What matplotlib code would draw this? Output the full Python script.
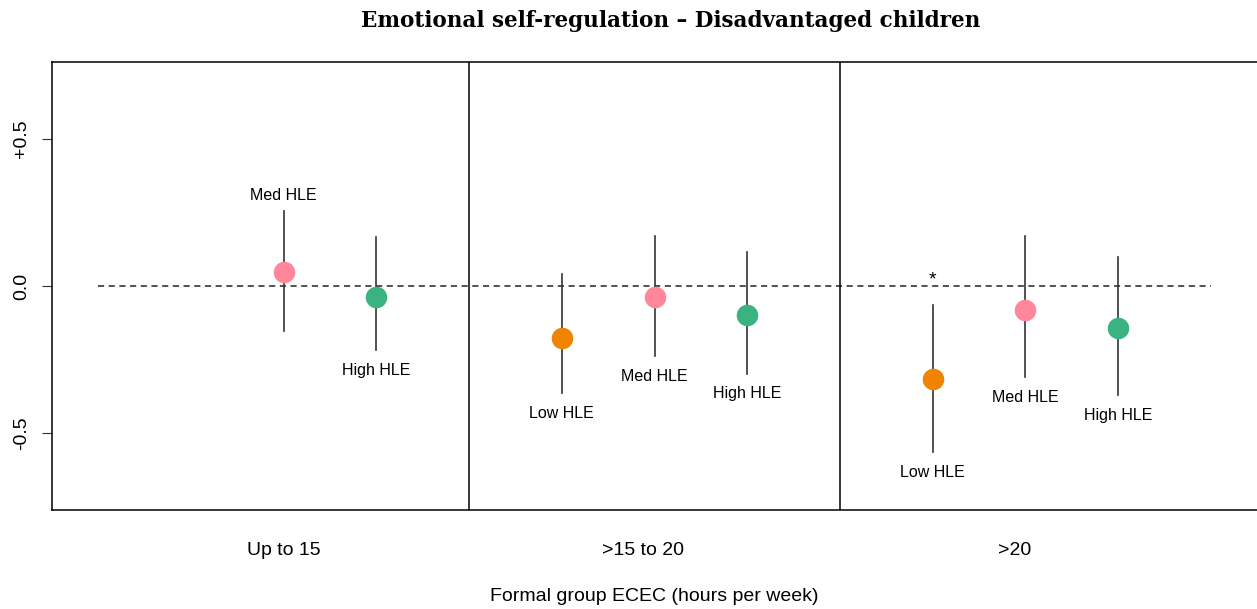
import matplotlib.pyplot as plt

groups = ['Up to 15', '>15 to 20', '>20']
group_ticks = [2, 5.88, 9.89]
hle = ['Low HLE', 'Med HLE', 'High HLE']
colors = ['#F08300', '#FF8799', '#3BB381']

# estimates per group, None where the cell is empty
est = [[None, 0.048, -0.038],
       [-0.175, -0.038, -0.097],
       [-0.314, -0.080, -0.144]]
lower = [[None, -0.151, -0.218],
         [-0.364, -0.239, -0.297],
         [-0.563, -0.310, -0.371]]
upper = [[None, 0.256, 0.167],
         [0.041, 0.168, 0.117],
         [-0.066, 0.171, 0.097]]
label_side = [[None, 'above', 'below'],
              ['below', 'below', 'below'],
              ['below', 'below', 'below']]
stars = [[None, '', ''],
         ['', '', ''],
         ['*', '', '']]

plt.rcParams['font.family'] = ['Liberation Sans', 'DejaVu Sans']

fig = plt.figure(figsize=(12.57, 6.09), dpi=100)
ax = fig.add_axes([52 / 1257, 99 / 609, 1205 / 1257, 448 / 609])

ax.plot([0, 12], [0, 0], ls=(0, (4, 3)), color='#222222', lw=1.1, zorder=1)

for g in range(len(groups)):
    for h in range(len(hle)):
        if est[g][h] is None:
            continue
        x = 4 * g + 1 + h
        ax.plot([x, x], [lower[g][h], upper[g][h]], color='#333333', lw=1.2, zorder=2)
        ax.plot(x, est[g][h], 'o', ms=15.5, color=colors[h], mec='none', zorder=3)
        if label_side[g][h] == 'above':
            ax.annotate(hle[h], (x, upper[g][h]), xytext=(0, 11), textcoords='offset points',
                        ha='center', va='center', fontsize=11.5)
        else:
            ax.annotate(hle[h], (x, lower[g][h]), xytext=(0, -14.5), textcoords='offset points',
                        ha='center', va='center', fontsize=11.5)
        if stars[g][h]:
            ax.annotate(stars[g][h], (x, 0), xytext=(0, 4), textcoords='offset points',
                        ha='center', va='center', fontsize=14)

for g in range(1, len(groups)):
    ax.axvline(4 * g, color='black', lw=1.1)

ax.set_xlim(-0.5, 12.5)
ax.set_ylim(-0.76, 0.76)
ax.set_xticks(group_ticks)
ax.set_xticklabels(groups, fontsize=14)
ax.tick_params(axis='x', length=0, pad=23)
ax.set_yticks([0.5, 0.0, -0.5])
ax.set_yticklabels(['+0.5', '0.0', '-0.5'], fontsize=14, rotation=90, va='center')
ax.tick_params(axis='y', length=7, pad=9, color='#333333')
ax.spines['right'].set_visible(False)
for s in ['left', 'top', 'bottom']:
    ax.spines[s].set_linewidth(1.1)

ax.set_xlabel('Formal group ECEC (hours per week)', fontsize=14, labelpad=21)
fig.suptitle('Emotional self-regulation \u2013 Disadvantaged children', x=(357 + 985) / 2 / 1257,
             y=1 - 21 / 609, va='center', fontsize=15.5, fontweight='bold', family='DejaVu Serif')

plt.savefig('out.png', dpi=100)
